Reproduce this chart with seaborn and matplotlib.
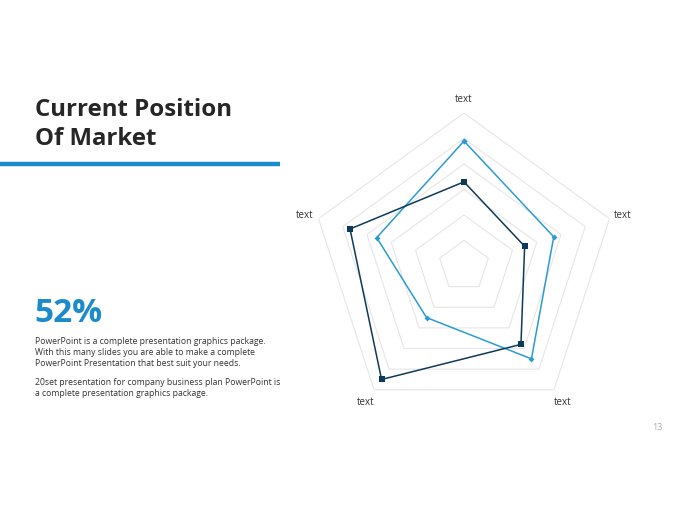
import numpy as np
import matplotlib
matplotlib.use('Agg')
import matplotlib.pyplot as plt
import seaborn as sns

# Radar data (0-60 scale)
categories = ['text', 'text', 'text', 'text', 'text']
series_light = [49, 37, 45, 25, 36]
series_dark = [33, 25, 38, 55, 47]
grid_levels = [10, 20, 30, 40, 50, 60]

light_blue = '#2b9bd3'
dark_blue = '#0e3a5a'
accent = '#1b8bcb'

sns.set_style('white')
plt.rcParams['font.family'] = ['Open Sans', 'DejaVu Sans']

fig = plt.figure(figsize=(6.8, 5.1), dpi=100)
fig.patch.set_facecolor('white')

# Left-hand slide text
fig.text(35 / 680, 1 - 116 / 510, 'Current Position', fontsize=17.3, fontweight='bold',
         color='#262626', va='baseline')
fig.text(35 / 680, 1 - 145 / 510, 'Of Market', fontsize=17.3, fontweight='bold',
         color='#262626', va='baseline')
fig.add_artist(plt.Line2D([0, 280 / 680], [1 - 164.5 / 510] * 2, color=accent, lw=3.2,
                          transform=fig.transFigure, solid_capstyle='butt'))
fig.text(34 / 680, 1 - 322 / 510, '52%', fontsize=24, fontweight='bold',
         color=accent, va='baseline')
para1 = ('PowerPoint is a complete presentation graphics package.\n'
         'With this many slides you are able to make a complete\n'
         'PowerPoint Presentation that best suit your needs.')
para2 = ('20set presentation for company business plan PowerPoint is\n'
         'a complete presentation graphics package.')
fig.text(35 / 680, 1 - 337 / 510, para1, fontsize=6.2, color='#333333', va='top',
         linespacing=1.27)
fig.text(35 / 680, 1 - 378 / 510, para2, fontsize=6.2, color='#333333', va='top',
         linespacing=1.27)
fig.text(657 / 680, 1 - 428 / 510, '13', fontsize=6.5, color='#aaaaaa', ha='center',
         va='center')

# Radar chart
cx, cy, R = 464, 267, 153
ax = fig.add_axes([(cx - R) / 680, (510 - cy - R) / 510, 2 * R / 680, 2 * R / 510],
                  projection='polar')
ax.set_theta_zero_location('N')
ax.set_theta_direction(-1)

n = len(categories)
theta = np.linspace(0, 2 * np.pi, n, endpoint=False)
theta_c = np.append(theta, theta[0])

for lv in grid_levels:
    ax.plot(theta_c, [lv] * (n + 1), color='#e6e6e6', lw=0.8, zorder=1)

light_c = series_light + series_light[:1]
dark_c = series_dark + series_dark[:1]
sns.lineplot(x=theta_c, y=light_c, sort=False, estimator=None, ax=ax, color=light_blue,
             lw=1.1, marker='D', markersize=3, markeredgewidth=0, zorder=3)
sns.lineplot(x=theta_c, y=dark_c, sort=False, estimator=None, ax=ax, color=dark_blue,
             lw=1.1, marker='s', markersize=4, markeredgewidth=0, zorder=4)

for t, lab in zip(theta, categories):
    ax.text(t, 65.5, lab, fontsize=7, color='#333333', ha='center', va='center')

ax.set_ylim(0, 60)
ax.set_xticks([])
ax.set_yticks([])
ax.grid(False)
ax.spines['polar'].set_visible(False)
ax.set_facecolor('none')
ax.set_xlabel('')
ax.set_ylabel('')

fig.savefig('out.png', dpi=100, facecolor='white')
